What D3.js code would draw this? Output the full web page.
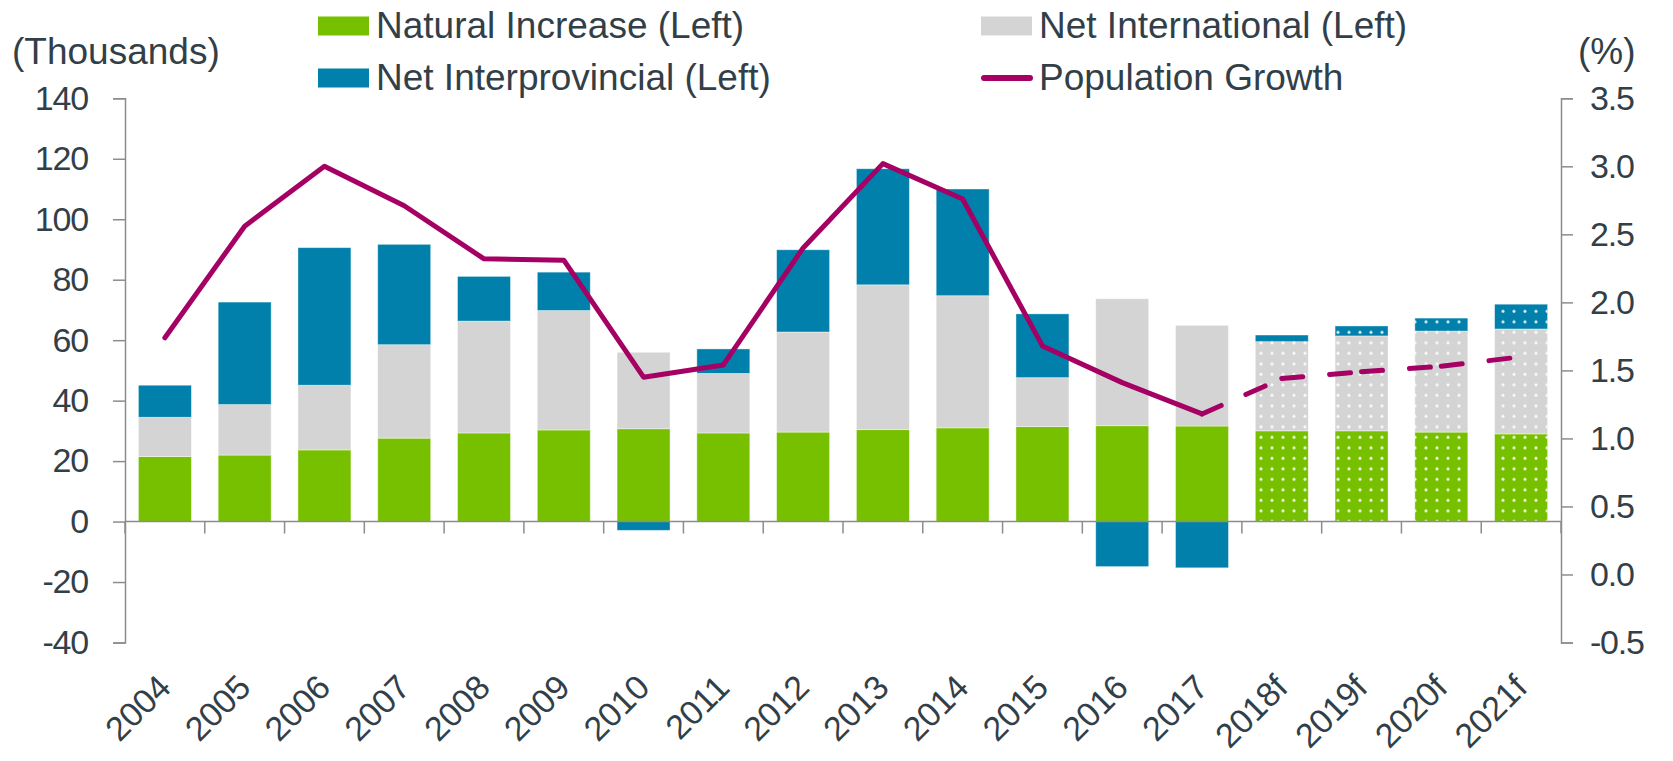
<!DOCTYPE html>
<html>
<head>
<meta charset="utf-8">
<script src="https://cdn.jsdelivr.net/npm/d3@7"></script>
<style>
  body { margin: 0; background: #fff; }
  text { font-family: "Liberation Sans", Arial, sans-serif; fill: #333f48; }
</style>
</head>
<body>
<div id="chart"></div>
<script>
// data
var years = ["2004", "2005", "2006", "2007", "2008", "2009", "2010", "2011", "2012",
  "2013", "2014", "2015", "2016", "2017", "2018f", "2019f", "2020f", "2021f"];
var natural = [21.5, 22, 23.7, 27.6, 29.3, 30.3, 30.7, 29.3, 29.6, 30.4, 31, 31.4, 31.7, 31.6, 30, 30, 29.6, 29];
var international = [13, 16.7, 21.4, 30.9, 37, 39.5, 25.3, 19.7, 33.1, 47.9, 43.7, 16.2, 42, 33.3, 29.5, 31.4, 33.4, 34.7];
var interprovincial = [10.6, 33.9, 45.5, 33.2, 14.8, 12.7, -2.9, 8.1, 27.2, 38.4, 35.3, 21.1, -14.9, -15.3, 2.2, 3.3, 4.3, 8.2];
var growth = [1.74, 2.56, 3.0, 2.71, 2.32, 2.31, 1.45, 1.54, 2.40, 3.02, 2.76, 1.68, 1.41, 1.18, 1.44, 1.49, 1.53, 1.60];
var forecast = ["2018f", "2019f", "2020f", "2021f"];
var leftTicks = [-40, -20, 0, 20, 40, 60, 80, 100, 120, 140];
var rightTicks = [-0.5, 0, 0.5, 1, 1.5, 2, 2.5, 3, 3.5];

var svgWidth = 1673;
var svgHeight = 761;
var margin = { top: 98.3, right: 112, bottom: 118.5, left: 125 };
var width = svgWidth - margin.left - margin.right;
var height = svgHeight - margin.top - margin.bottom;

var colors = { natural: "#77c000", international: "#d3d4d3", interprovincial: "#0080ab" };
var lineColor = "#a50064";
var axisColor = "#8c8c8c";

var svg = d3.select("#chart").append("svg")
  .attr("width", svgWidth)
  .attr("height", svgHeight);

// dotted fill for the forecast years
var pat = svg.append("defs").append("pattern")
  .attr("id", "dots")
  .attr("patternUnits", "userSpaceOnUse")
  .attr("width", 11)
  .attr("height", 10.5);
pat.append("circle")
  .attr("cx", 3).attr("cy", 3).attr("r", 1.5)
  .attr("fill", "#fff").attr("opacity", 0.85);

var g = svg.append("g").attr("transform", `translate(${margin.left}, ${margin.top})`);

var rows = years.map(function(y, i) {
  return { year: y, natural: natural[i], international: international[i], interprovincial: interprovincial[i] };
});

var x = d3.scaleBand().domain(years).range([0, width]).paddingInner(0.336).paddingOuter(0.168);
var yL = d3.scaleLinear().domain([-40, 140]).range([height, 0]);
var yR = d3.scaleLinear().domain([-0.5, 3.5]).range([height, 0]);

var stack = d3.stack()
  .keys(["natural", "international", "interprovincial"])
  .offset(d3.stackOffsetDiverging);
var series = stack(rows);

// bars
var layers = g.selectAll(".layer").data(series).enter().append("g")
  .attr("class", "layer");
layers.selectAll("rect").data(d => d).enter().append("rect")
  .attr("x", d => x(d.data.year))
  .attr("width", x.bandwidth())
  .attr("y", d => yL(Math.max(d[0], d[1])))
  .attr("height", d => Math.abs(yL(d[0]) - yL(d[1])))
  .attr("fill", function() { return colors[d3.select(this.parentNode).datum().key]; })
  .attr("stroke", "#fff").attr("stroke-opacity", 0.5).attr("stroke-width", 0.8);

layers.selectAll(".dot").data(d => d.filter(p => forecast.indexOf(p.data.year) >= 0))
  .enter().append("rect")
  .attr("class", "dot")
  .attr("x", d => x(d.data.year))
  .attr("width", x.bandwidth())
  .attr("y", d => yL(Math.max(d[0], d[1])))
  .attr("height", d => Math.abs(yL(d[0]) - yL(d[1])))
  .attr("fill", "url(#dots)");

// left axis
var leftAxis = d3.axisLeft(yL).tickValues(leftTicks).tickSize(12).tickPadding(25)
  .tickFormat(d => String(d));
var gl = g.append("g").call(leftAxis);

// right axis
var rightAxis = d3.axisRight(yR).tickValues(rightTicks).tickSize(12).tickPadding(17)
  .tickFormat(d => d.toFixed(1));
var gr = g.append("g").attr("transform", `translate(${width}, 0)`).call(rightAxis);

[gl, gr].forEach(function(a) {
  a.selectAll("path, line").attr("stroke", axisColor).attr("stroke-width", 1.5);
  a.selectAll("text")
    .style("font-size", "34px")
    .style("letter-spacing", "-1.2px")
    .attr("fill", "#333f48");
});

// zero line with category boundary ticks
var gx = g.append("g").attr("transform", `translate(0, ${yL(0)})`);
gx.append("line").attr("x1", 0).attr("x2", width)
  .attr("stroke", axisColor).attr("stroke-width", 1.5);
gx.selectAll(".tk").data(d3.range(years.length + 1)).enter().append("line")
  .attr("x1", i => i * x.step()).attr("x2", i => i * x.step())
  .attr("y1", 0).attr("y2", 12)
  .attr("stroke", axisColor).attr("stroke-width", 1.5);

// year labels
g.selectAll(".yr").data(years).enter().append("text")
  .attr("transform", d => `translate(${x(d) + x.bandwidth() / 2 + 8}, ${height + 47}) rotate(-45)`)
  .attr("text-anchor", "end")
  .style("font-size", "34px")
  .text(d => d);

// population growth line
var pts = years.map((y, i) => [x(y) + x.bandwidth() / 2, yR(growth[i])]);
var line = d3.line();
var nSolid = years.indexOf("2017") + 1;
g.append("path")
  .attr("d", line(pts.slice(0, nSolid)))
  .attr("fill", "none")
  .attr("stroke", lineColor)
  .attr("stroke-width", 5)
  .attr("stroke-linejoin", "round")
  .attr("stroke-linecap", "round");
for (var i = nSolid - 1; i < pts.length - 1; i++) {
  g.append("path")
    .attr("d", line([pts[i], pts[i + 1]]))
    .attr("fill", "none")
    .attr("stroke", lineColor)
    .attr("stroke-width", 5)
    .attr("stroke-dasharray", "21,27")
    .attr("stroke-linecap", "round");
}

// axis titles
svg.append("text").attr("x", 12).attr("y", 64).style("font-size", "37px").text("(Thousands)");
svg.append("text").attr("x", 1578).attr("y", 64).style("font-size", "37px").text("(%)");

// legend
var legend = [
  { label: "Natural Increase (Left)", type: "box", color: colors.natural, x: 318, y: 16.5 },
  { label: "Net Interprovincial (Left)", type: "box", color: colors.interprovincial, x: 318, y: 68.5 },
  { label: "Net International (Left)", type: "box", color: colors.international, x: 981, y: 16.5 },
  { label: "Population Growth", type: "line", color: lineColor, x: 981, y: 68.5 }
];
var lg = svg.selectAll(".lg").data(legend).enter().append("g")
  .attr("transform", d => `translate(${d.x}, ${d.y})`);
lg.filter(d => d.type === "box").append("rect")
  .attr("width", 51).attr("height", 19).attr("fill", d => d.color);
lg.filter(d => d.type === "line").append("line")
  .attr("x1", 3).attr("x2", 49).attr("y1", 9.5).attr("y2", 9.5)
  .attr("stroke", d => d.color).attr("stroke-width", 6).attr("stroke-linecap", "round");
lg.append("text")
  .attr("x", 58).attr("y", 21)
  .style("font-size", "37px")
  .text(d => d.label);
</script>
</body>
</html>
